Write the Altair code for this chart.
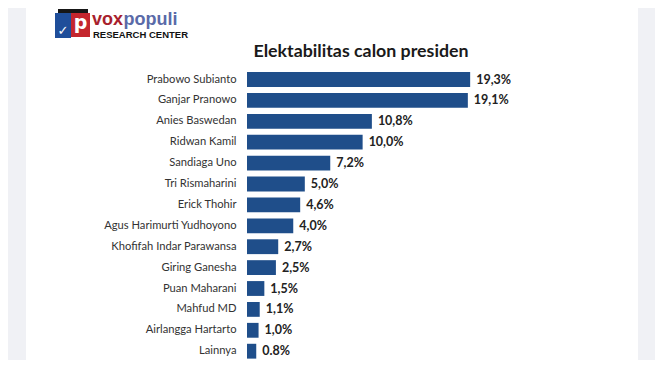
import altair as alt
import pandas as pd

names = ["Prabowo Subianto", "Ganjar Pranowo", "Anies Baswedan", "Ridwan Kamil",
         "Sandiaga Uno", "Tri Rismaharini", "Erick Thohir", "Agus Harimurti Yudhoyono",
         "Khofifah Indar Parawansa", "Giring Ganesha", "Puan Maharani", "Mahfud MD",
         "Airlangga Hartarto", "Lainnya"]
values = [19.3, 19.1, 10.8, 10.0, 7.2, 5.0, 4.6, 4.0, 2.7, 2.5, 1.5, 1.1, 1.0, 0.8]
labels = ["19,3%", "19,1%", "10,8%", "10,0%", "7,2%", "5,0%", "4,6%", "4,0%",
          "2,7%", "2,5%", "1,5%", "1,1%", "1,0%", "0.8%"]
title_text = "Elektabilitas calon presiden"

df = pd.DataFrame({"name": names, "value": values, "label": labels})

BAR = "#1f4e8a"
FONT = "Lato"

SVG_W, SVG_H = 647, 352
STEP = 20.9
N = len(names)
FIRST_CENTER = 79.5
OX, OY = 247, FIRST_CENTER - STEP / 2
PAD_L, PAD_T = OX - 8, OY - 8
W = 370
H = SVG_H - PAD_T

yenc = alt.Y("name:N", sort=None,
             scale=alt.Scale(range=[0, STEP * N], paddingInner=0.29, paddingOuter=0.145),
             axis=alt.Axis(title=None, domain=False, ticks=False, labelPadding=11,
                           labelFont=FONT, labelFontSize=11.2, labelColor="#333333",
                           labelLimit=300))
xenc = alt.X("value:Q", scale=alt.Scale(domain=[0, 32]), axis=None)

base = alt.Chart(df)
bars = base.mark_bar(color=BAR).encode(x=xenc, y=yenc)
vals = base.mark_text(align="left", baseline="middle", dx=6, font=FONT, fontSize=12.5,
                      fontWeight="bold", color="#222222").encode(x=xenc, y=yenc, text="label:N")

one = pd.DataFrame({"k": [0]})
def px(x):
    return x - OX
def py(y):
    return y - OY

side_l = alt.Chart(one).mark_rect(color="#f0f1f5").encode(
    x=alt.value(px(8)), x2=alt.value(px(26)), y=alt.value(py(0)), y2=alt.value(py(380)))
side_r = alt.Chart(one).mark_rect(color="#f0f1f5").encode(
    x=alt.value(px(638)), x2=alt.value(px(670)), y=alt.value(py(0)), y2=alt.value(py(380)))

title = alt.Chart(one).mark_text(text=title_text, font=FONT, fontSize=17.8, fontWeight="bold",
                                 color="#1a1a1a", align="center", baseline="alphabetic").encode(
    x=alt.value(px(361)), y=alt.value(py(57)))

# logo
cube_top = alt.Chart(one).mark_rect(color="#161616").encode(
    x=alt.value(px(58)), x2=alt.value(px(88)), y=alt.value(py(9)), y2=alt.value(py(14)))
cube_l = alt.Chart(one).mark_rect(color="#1f4e9a").encode(
    x=alt.value(px(55)), x2=alt.value(px(71)), y=alt.value(py(13)), y2=alt.value(py(38)))
cube_r = alt.Chart(one).mark_rect(color="#c4262e").encode(
    x=alt.value(px(71)), x2=alt.value(px(90)), y=alt.value(py(13)), y2=alt.value(py(37)))
cube_p = alt.Chart(one).mark_text(text="p", font="DejaVu Sans", fontSize=19, fontWeight="bold",
                                  color="white", align="center", baseline="alphabetic").encode(
    x=alt.value(px(80.5)), y=alt.value(py(29)))
cube_v = alt.Chart(one).mark_text(text="✓", font="DejaVu Sans", fontSize=13, fontWeight="bold",
                                  color="white", align="center", baseline="alphabetic").encode(
    x=alt.value(px(63)), y=alt.value(py(35)))
vox = alt.Chart(one).mark_text(text="vox", font="Liberation Sans", fontSize=18, fontWeight="bold",
                               color="#a81f2e", align="left", baseline="alphabetic").encode(
    x=alt.value(px(92)), y=alt.value(py(25)))
populi = alt.Chart(one).mark_text(text="populi", font="Liberation Sans", fontSize=18,
                                  fontWeight="bold", color="#5a6aa8", align="left",
                                  baseline="alphabetic").encode(
    x=alt.value(px(123.5)), y=alt.value(py(25)))
rc = alt.Chart(one).mark_text(text="RESEARCH CENTER", font="Liberation Sans", fontSize=9.5,
                              fontWeight="bold", color="#111111", align="left",
                              baseline="alphabetic").encode(
    x=alt.value(px(93)), y=alt.value(py(38)))

chart = alt.layer(side_l, side_r, title, cube_top, cube_l, cube_r, cube_p, cube_v,
                  vox, populi, rc, bars, vals).properties(
    width=W, height=H,
    autosize=alt.AutoSizeParams(type="none"),
    padding={"left": PAD_L, "top": PAD_T, "right": SVG_W - PAD_L - W, "bottom": 0},
    background="white",
).configure_view(stroke=None)

chart.save("out.html", embed_options={"renderer": "svg", "actions": False})
